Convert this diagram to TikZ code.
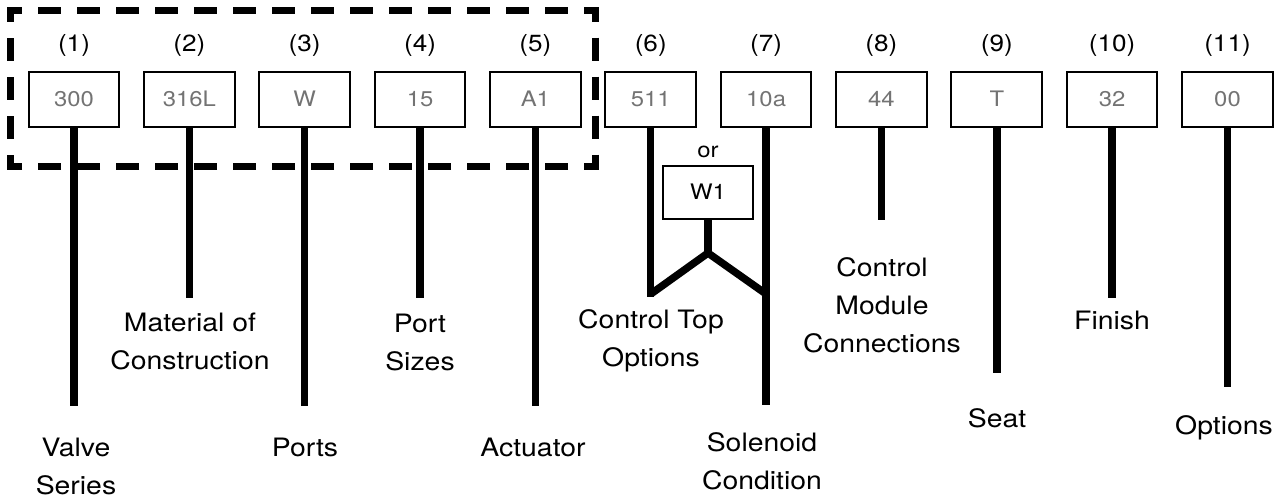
\documentclass[tikz,border=0pt]{standalone}
\usepackage{fontspec}
\setmainfont[FakeStretch=1.12]{TeX Gyre Heros}
\usetikzlibrary{calc,positioning}
\tikzstyle{codebox}   = [draw=black, line width=1.5pt, minimum width=68pt, minimum height=41pt, inner sep=0pt, text height=1.1em, text depth=0pt, text=black!55, font=\fontsize{16pt}{18pt}\selectfont]
\tikzstyle{posnum}    = [font=\fontsize{17.5pt}{20pt}\selectfont]
\tikzstyle{partlabel} = [align=center, font=\fontsize{19pt}{28.5pt}\selectfont]
\tikzstyle{stem}      = [line width=5.6pt]
\tikzstyle{dashframe} = [line width=5.25pt, dash pattern=on 17.25pt off 12pt, dash phase=23.25pt]

\begin{document}
\begin{tikzpicture}[x=0.75pt,y=-0.75pt]
		\useasboundingbox (0,0) rectangle (1278,501);

		% dashed frame round (1)-(5)
		\draw[dashframe] (303,10) -- (595.5,10) -- (595.5,166) -- (10.5,166) -- (10.5,10) -- cycle;

		\node[posnum] (n1) at (74,45) {(1)};
		\node[posnum] (n2) at (189.35,45) {(2)};
		\node[posnum] (n3) at (304.7,45) {(3)};
		\node[posnum] (n4) at (420.05,45) {(4)};
		\node[posnum] (n5) at (535.4,45) {(5)};
		\node[posnum] (n6) at (650.75,45) {(6)};
		\node[posnum] (n7) at (766.1,45) {(7)};
		\node[posnum] (n8) at (881.45,45) {(8)};
		\node[posnum] (n9) at (996.8,45) {(9)};
		\node[posnum] (n10) at (1112.15,45) {(10)};
		\node[posnum] (n11) at (1227.5,45) {(11)};

		\node[codebox] (b1) at (74,99.5) {300};
		\node[codebox] (b2) at (189.35,99.5) {316L};
		\node[codebox] (b3) at (304.7,99.5) {W};
		\node[codebox] (b4) at (420.05,99.5) {15};
		\node[codebox] (b5) at (535.4,99.5) {A1};
		\node[codebox] (b6) at (650.75,99.5) {511};
		\node[codebox] (b7) at (766.1,99.5) {10a};
		\node[codebox] (b8) at (881.45,99.5) {44};
		\node[codebox] (b9) at (996.8,99.5) {T};
		\node[codebox] (b10) at (1112.15,99.5) {32};
		\node[codebox] (b11) at (1227.5,99.5) {00};

		% alternative to (6)
		\node[font=\fontsize{16pt}{18pt}\selectfont] (or) at (708,152) {or};
		\node[codebox, text=black, minimum height=40pt] (w1) at (708,192.5) {W1};

		\coordinate (e1) at (74,406);
		\coordinate (e2) at (189.35,298);
		\coordinate (e3) at (304.7,406);
		\coordinate (e4) at (420.05,298);
		\coordinate (e5) at (535.4,406);
		\coordinate (e6) at (650.75,297);
		\coordinate (e7) at (766.1,405);
		\coordinate (e8) at (881.45,220);
		\coordinate (e9) at (996.8,373);
		\coordinate (e10) at (1112.15,298);
		\coordinate (e11) at (1227.5,387);
		\coordinate (fork) at (708,253);
		\coordinate (f6) at (650.75,294);
		\coordinate (f7) at (766.1,294);

		\draw[stem] (b1.south) -- (e1);
		\draw[stem] (b2.south) -- (e2);
		\draw[stem] (b3.south) -- (e3);
		\draw[stem] (b4.south) -- (e4);
		\draw[stem] (b5.south) -- (e5);
		\draw[stem] (b6.south) -- (e6);
		\draw[stem] (b7.south) -- (e7);
		\draw[stem] (b8.south) -- (e8);
		\draw[stem] (b9.south) -- (e9);
		\draw[stem] (b10.south) -- (e10);
		\draw[stem] (b11.south) -- (e11);
		\draw[stem] (w1.south) -- (fork);
		\draw[stem, line join=miter] (f6) -- (fork) -- (f7);

		\node[partlabel] (l1) at (76,466) {Valve\\Series};
		\node[partlabel] (l2) at (190,341) {Material of\\Construction};
		\node[partlabel] (l3) at (305,447) {Ports};
		\node[partlabel] (l4) at (420,342) {Port\\Sizes};
		\node[partlabel] (l5) at (533,447) {Actuator};
		\node[partlabel] (l6) at (651,341) {Control Top\\Options};
		\node[partlabel] (l7) at (762,461) {Solenoid\\Condition};
		\node[partlabel] (l8) at (882,305) {Control\\Module\\Connections};
		\node[partlabel] (l9) at (997,418) {Seat};
		\node[partlabel] (l10) at (1112,320) {Finish};
		\node[partlabel] (l11) at (1224,428) {Options};
	\end{tikzpicture}
\end{document}
